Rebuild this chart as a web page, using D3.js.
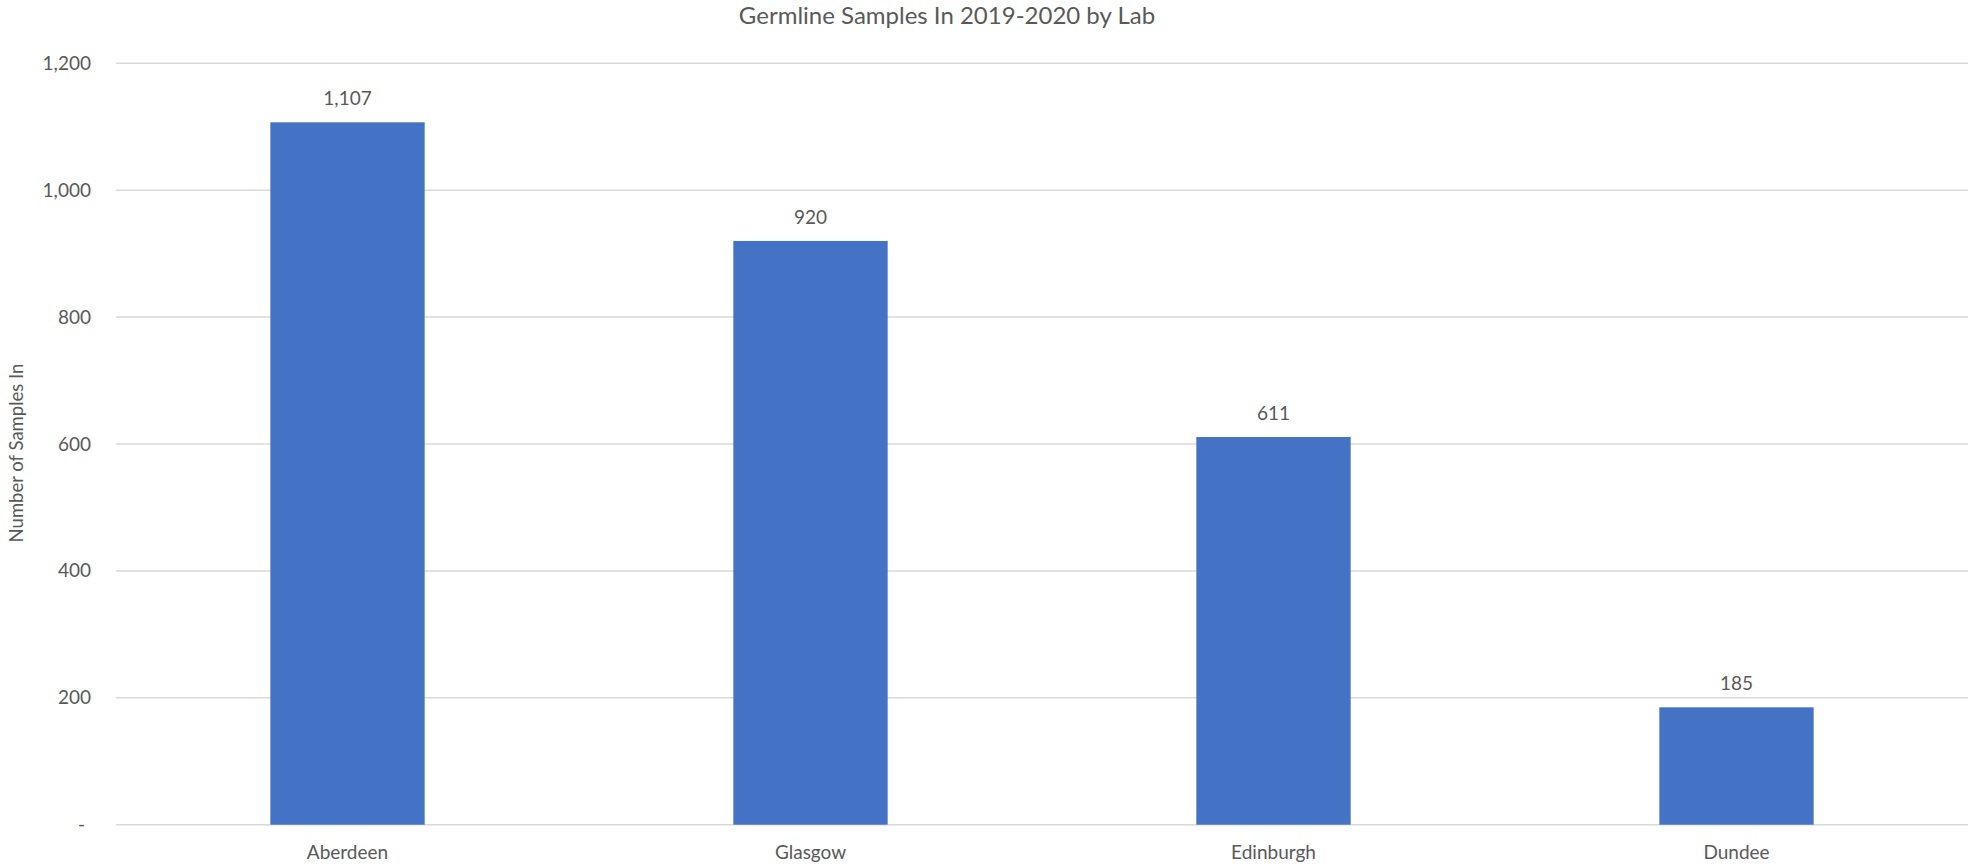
<!DOCTYPE html>
<html><head><meta charset="utf-8">
<script src="https://cdn.jsdelivr.net/npm/d3@7"></script>
<style>body{margin:0;background:#fff;} text{font-family:Lato,"Open Sans",sans-serif;fill:#595959;}</style>
</head><body>
<svg id="c" width="1974" height="868"></svg>
<script>
const categories = ["Aberdeen","Glasgow","Edinburgh","Dundee"];
const values = [1107, 920, 611, 185];
const yTicks = [0, 200, 400, 600, 800, 1000, 1200];
const title = "Germline Samples In 2019-2020 by Lab";
const yTitle = "Number of Samples In";

const svg = d3.select("#c");
const m = {left:116, right:1968, top:63.3, bottom:824.7};
const x = d3.scaleBand().domain(categories).range([m.left, m.right]).paddingInner(2/3).paddingOuter(1/3);
const y = d3.scaleLinear().domain([0,1200]).range([m.bottom, m.top]);
const fmt = d3.format(",");

// gridlines
svg.append("g").selectAll("line").data(yTicks).join("line")
  .attr("x1", m.left).attr("x2", m.right)
  .attr("y1", d=>y(d)).attr("y2", d=>y(d))
  .attr("stroke", "#d9d9d9").attr("stroke-width", 1.5);

// y axis labels
const yAxis = d3.axisLeft(y).tickValues(yTicks).tickSize(0).tickPadding(0)
  .tickFormat(d => d === 0 ? "-" : fmt(d));
const gy = svg.append("g").attr("transform", `translate(91,0)`).call(yAxis);
gy.select(".domain").remove();
gy.selectAll("text").attr("font-size", 19).attr("font-family", "Lato").attr("fill", "#595959");
gy.selectAll("text").filter(d => d === 0).attr("dx", -6);

// bars
svg.append("g").selectAll("rect").data(values).join("rect")
  .attr("x", (d,i)=>x(categories[i])).attr("width", x.bandwidth())
  .attr("y", d=>y(d)).attr("height", d=>y(0)-y(d))
  .attr("fill", "#4472C4");

// data labels
svg.append("g").selectAll("text").data(values).join("text")
  .attr("x", (d,i)=>x(categories[i]) + x.bandwidth()/2)
  .attr("y", d=>y(d) - 17)
  .attr("text-anchor", "middle").attr("font-size", 19).attr("fill", "#404040")
  .text(d=>fmt(d));

// x axis labels
const xAxis = d3.axisBottom(x).tickSize(0).tickPadding(0);
const gx = svg.append("g").attr("transform", `translate(0,${m.bottom})`).call(xAxis);
gx.select(".domain").remove();
gx.selectAll("text").attr("font-size", 19).attr("font-family", "Lato").attr("fill", "#595959")
  .attr("dy", null).attr("y", 34);

// title
svg.append("text").attr("x", 947).attr("y", 24).attr("text-anchor", "middle")
  .attr("font-size", 24).text(title);

// y title
svg.append("text").attr("transform", "translate(23,453) rotate(-90)")
  .attr("text-anchor", "middle").attr("font-size", 18.5).text(yTitle);
</script>
</body></html>
